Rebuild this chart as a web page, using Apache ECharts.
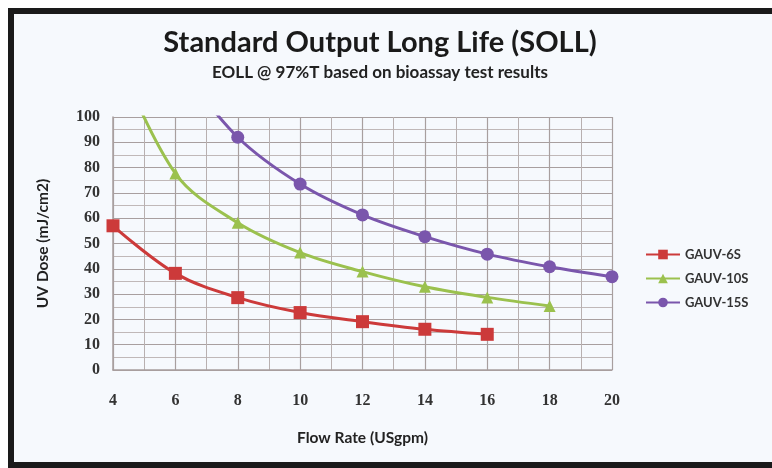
<!DOCTYPE html>
<html>
<head>
<meta charset="utf-8">
<script src="https://cdn.jsdelivr.net/npm/echarts@6/dist/echarts.min.js"></script>
<style>
  html, body { margin: 0; padding: 0; background: #ffffff; }
  #main { width: 772px; height: 468px; }
</style>
</head>
<body>
<div id="main"></div>
<script>
// flow rates (USgpm) and UV dose (mJ/cm2)
var flowRates = [4, 6, 8, 10, 12, 14, 16, 18, 20];
var gauv6s  = [57, 38.2, 28.6, 22.7, 19.1, 16.1, 14.1, null, null];
var gauv10s = [128, 77.7, 58.2, 46.4, 38.9, 32.9, 28.7, 25.3, null];
var gauv15s = [null, 122, 92, 73.5, 61.3, 52.7, 45.8, 40.8, 36.9];
var seriesNames = ['GAUV-6S', 'GAUV-10S', 'GAUV-15S'];

function pairs(vals) {
    var out = [];
    for (var i = 0; i < flowRates.length; i++) {
        if (vals[i] != null) out.push([flowRates[i], vals[i]]);
    }
    return out;
}

var myChart = echarts.init(document.getElementById('main'));

var labelFont = { fontFamily: 'Liberation Serif', fontWeight: 'bold', fontSize: 16, color: '#333' };
var nameFont = { fontFamily: 'Lato', fontWeight: 'bold', fontSize: 15.5, color: '#222' };

function lineSeries(name, vals, symbol, size, color) {
    return {
        name: name,
        type: 'line',
        smooth: 0.35,
        clip: true,
        symbol: symbol,
        symbolSize: size,
        data: pairs(vals),
        lineStyle: { width: 3, color: color },
        itemStyle: { color: color }
    };
}

var option = {
    backgroundColor: '#ffffff',
    animation: false,
    graphic: [{
        type: 'rect',
        z: -10,
        shape: { x: 11, y: 11, width: 800, height: 454 },
        style: { fill: '#f6f9fd', stroke: '#1a1a1a', lineWidth: 6 }
    }],
    title: {
        text: 'Standard Output Long Life (SOLL)',
        subtext: 'EOLL @ 97%T based on bioassay test results',
        left: 375,
        textAlign: 'center',
        top: 23,
        itemGap: 7,
        textStyle: { fontFamily: 'Lato', fontWeight: 'bold', fontSize: 29, color: '#1a1a1a' },
        subtextStyle: { fontFamily: 'Lato', fontWeight: 'bold', fontSize: 17, color: '#222' }
    },
    legend: {
        orient: 'vertical',
        left: 640,
        top: 243,
        itemGap: 11,
        itemWidth: 34,
        itemHeight: 12,
        data: seriesNames,
        textStyle: { fontFamily: 'Lato', fontWeight: 'bold', fontSize: 13, color: '#333' }
    },
    grid: { left: 113, right: 160, top: 117, bottom: 98 },
    xAxis: {
        type: 'value',
        min: 4,
        max: 20,
        interval: 2,
        name: 'Flow Rate (USgpm)',
        nameLocation: 'middle',
        nameGap: 60,
        nameTextStyle: nameFont,
        axisLine: { show: true, lineStyle: { color: '#a89f9f', width: 1.5 } },
        axisTick: { show: false },
        axisLabel: Object.assign({ margin: 23 }, labelFont),
        splitLine: { show: true, lineStyle: { color: '#a89f9f', width: 1.2 } },
        minorTick: { show: false, splitNumber: 2 },
        minorSplitLine: { show: true, lineStyle: { color: '#b8b0b0', width: 1 } }
    },
    yAxis: {
        type: 'value',
        min: 0,
        max: 100,
        interval: 10,
        name: 'UV Dose (mJ/cm2)',
        nameLocation: 'middle',
        nameGap: 62,
        nameTextStyle: nameFont,
        axisLine: { show: true, lineStyle: { color: '#a89f9f', width: 1.5 } },
        axisTick: { show: false },
        axisLabel: Object.assign({ margin: 13 }, labelFont),
        splitLine: { show: true, lineStyle: { color: '#a89f9f', width: 1.2 } },
        minorTick: { show: false, splitNumber: 2 },
        minorSplitLine: { show: true, lineStyle: { color: '#c0b8b8', width: 1 } }
    },
    series: [
        lineSeries(seriesNames[0], gauv6s, 'rect', 13, '#cc3a3a'),
        lineSeries(seriesNames[1], gauv10s, 'triangle', 12, '#9bc14e'),
        lineSeries(seriesNames[2], gauv15s, 'circle', 13, '#7a56ac')
    ]
};

myChart.setOption(option);
</script>
</body>
</html>
